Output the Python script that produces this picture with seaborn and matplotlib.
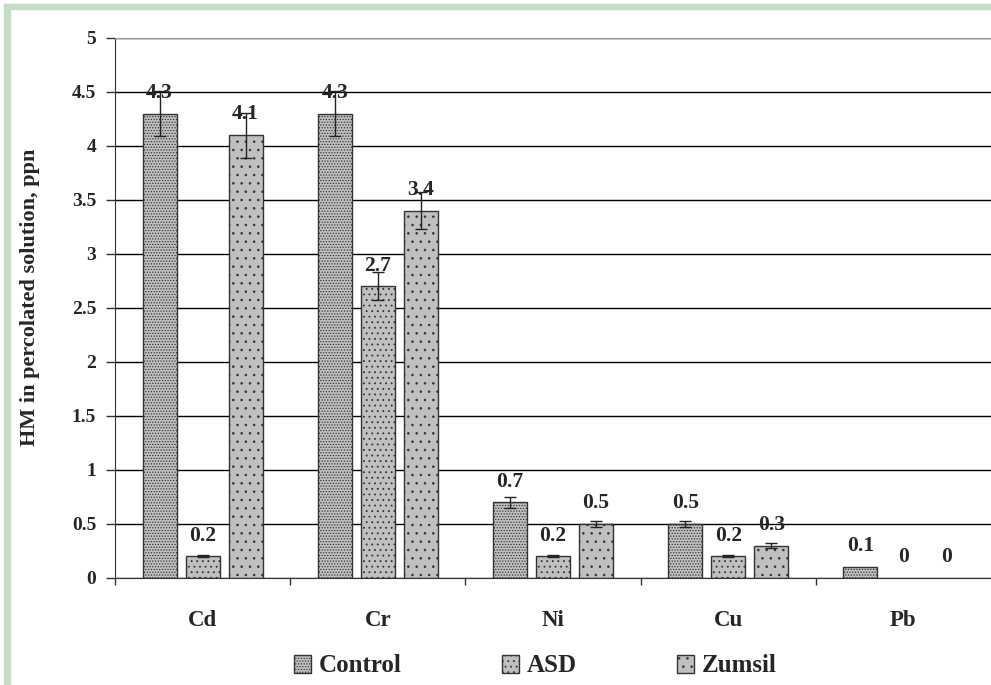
#!/usr/bin/env python3
# coding=utf-8
import matplotlib
matplotlib.use('Agg')
import numpy as np
import pandas as pd
import matplotlib.pyplot as plt
import seaborn as sns
from matplotlib.patches import Patch, Rectangle

metals = ['Cd', 'Cr', 'Ni', 'Cu', 'Pb']
treatments = ['Control', 'ASD', 'Zumsil']
control = [4.3, 4.3, 0.7, 0.5, 0.1]
asd = [0.2, 2.7, 0.2, 0.2, 0.0]
zumsil = [4.1, 3.4, 0.5, 0.3, 0.0]
control_err = [0.21, 0.21, 0.05, 0.03, 0.0]
asd_err = [0.01, 0.13, 0.01, 0.01, 0.0]
zumsil_err = [0.21, 0.17, 0.03, 0.02, 0.0]
yticks = [0, 0.5, 1, 1.5, 2, 2.5, 3, 3.5, 4, 4.5, 5]
ytick_labels = ['0', '0.5', '1', '1.5', '2', '2.5', '3', '3.5', '4', '4.5', '5']

values = {'Control': control, 'ASD': asd, 'Zumsil': zumsil}
errors = {'Control': control_err, 'ASD': asd_err, 'Zumsil': zumsil_err}
hatches = {'Control': '......', 'ASD': '...', 'Zumsil': '..'}

df = pd.DataFrame([(m, t, values[t][i]) for t in treatments for i, m in enumerate(metals)],
                  columns=['metal', 'treatment', 'value'])

sns.set_style('ticks')
plt.rcParams['font.family'] = ['Liberation Serif', 'DejaVu Serif']
plt.rcParams['hatch.linewidth'] = 0.6
plt.rcParams['hatch.color'] = '#333333'

fig = plt.figure(figsize=(9.91, 6.85), dpi=100)
ax = fig.add_axes([115/991, 1-578/685, 876/991, 540/685])

sns.barplot(data=df, x='metal', y='value', hue='treatment', order=metals, hue_order=treatments,
            palette=['#c0c0c0']*3, width=0.736, gap=0.21, errorbar=None, legend=False,
            edgecolor='#333333', linewidth=1.0, saturation=1, ax=ax)

for cont, t in zip(ax.containers, treatments):
    for bar, v, e in zip(cont, values[t], errors[t]):
        bar.set_hatch(hatches[t])
        if v == 0:
            bar.set_linewidth(0)
        x = bar.get_x() + bar.get_width()/2
        if e > 0:
            ax.errorbar(x, v, yerr=e, fmt='none', ecolor='#222222', elinewidth=1, capsize=4, capthick=1, zorder=5)
        ax.annotate(f'{v:g}', (x, v), xytext=(0, 15), textcoords='offset points', ha='center', va='center',
                    fontsize=15.5, fontweight='bold', zorder=6)

ax.set_xlim(-0.5, 4.5)
ax.set_ylim(0, 5)
ax.set_yticks(yticks)
ax.set_yticklabels(ytick_labels, fontsize=14, fontweight='bold')
ax.yaxis.grid(True, color='black', linewidth=1)
ax.set_axisbelow(True)
ax.tick_params(axis='y', length=6.5, width=1, color='#333333', pad=7)
ax.set_xticks(range(len(metals)))
ax.set_xticklabels(metals, fontsize=16.5, fontweight='bold')
ax.set_xticks(np.arange(-0.5, 4.5, 1), minor=True)
ax.tick_params(axis='x', which='major', length=0, pad=23)
ax.tick_params(axis='x', which='minor', length=5, width=1, color='#333333')
ax.set_xlabel('')
ax.set_ylabel('HM in percolated solution, ppn', fontsize=16, fontweight='bold')
ax.yaxis.set_label_coords(-0.086, 0.52)
for s in ['left', 'bottom']:
    ax.spines[s].set_color('#333333')
ax.spines['top'].set_color('#999999')
ax.spines['right'].set_visible(False)

handles = [Patch(facecolor='#c0c0c0', edgecolor='#333333', hatch=hatches[t], label=t) for t in treatments]
fig.legend(handles=handles, loc='center', bbox_to_anchor=(0.54, 1-666/685), ncol=3, frameon=False,
           prop={'size': 18, 'weight': 'bold'}, handlelength=0.7, handleheight=0.7,
           handletextpad=0.3, columnspacing=4.0)

# light green frame from the source page
fig.patches.append(Rectangle((4/991, 1-9/685), 1, 5/685, transform=fig.transFigure, color='#c5ddc6', zorder=0))
fig.patches.append(Rectangle((4/991, 0), 6/991, 1-4/685, transform=fig.transFigure, color='#c5ddc6', zorder=0))

fig.savefig('out.png', dpi=100)
